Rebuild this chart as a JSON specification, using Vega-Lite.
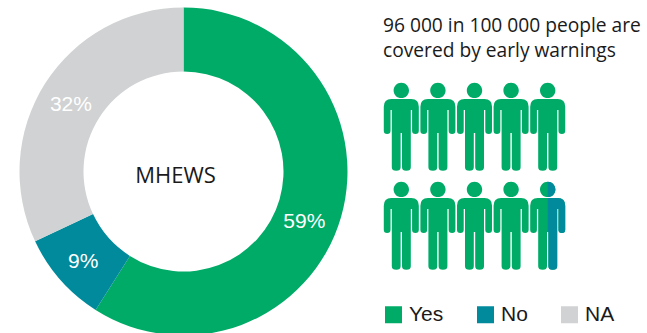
{
  "$schema": "https://vega.github.io/schema/vega-lite/v6.json",
  "padding": 0,
  "background": "white",
  "bounds": "flush",
  "spacing": 16,
  "config": {"view": {"stroke": null}},
  "hconcat": [
    {
      "width": 367,
      "height": 333,
      "data": {
        "values": [
          {"status": "Yes", "rank": 1, "share": 0.59},
          {"status": "No", "rank": 2, "share": 0.09},
          {"status": "NA", "rank": 3, "share": 0.32}
        ]
      },
      "encoding": {
        "theta": {"field": "share", "type": "quantitative", "stack": true},
        "order": {"field": "rank", "type": "ordinal"}
      },
      "layer": [
        {
          "mark": {"type": "arc", "innerRadius": 100, "outerRadius": 164, "yOffset": 5, "opacity": 1},
          "encoding": {
            "color": {
              "field": "status",
              "type": "nominal",
              "sort": null,
              "title": null,
              "scale": {"domain": ["Yes", "No", "NA"], "range": ["#00AB67", "#008A9B", "#D0D2D3"]},
              "legend": {
                "orient": "none",
                "legendX": 383,
                "legendY": 304,
                "direction": "horizontal",
                "padding": 0,
                "symbolType": "square",
                "symbolSize": 289,
                "symbolStrokeWidth": 0,
                "symbolOpacity": 1,
                "labelFont": "Liberation Sans",
                "labelFontSize": 21,
                "labelColor": "#1a1a1a",
                "labelOffset": 5,
                "columnPadding": 31
              }
            }
          }
        },
        {
          "mark": {"type": "text", "radius": 131, "yOffset": 5, "dx": -2, "dy": 4, "font": "Liberation Sans", "fontSize": 21, "color": "white"},
          "encoding": {
            "text": {
              "condition": {"test": "datum.status === 'Yes'", "value": ""},
              "field": "share",
              "type": "quantitative",
              "format": ".0%"
            }
          }
        },
        {
          "mark": {"type": "text", "radius": 131, "yOffset": 5, "dx": -5, "dy": 14, "font": "Liberation Sans", "fontSize": 21, "color": "white"},
          "encoding": {
            "text": {
              "condition": {"test": "datum.status !== 'Yes'", "value": ""},
              "field": "share",
              "type": "quantitative",
              "format": ".0%"
            }
          }
        },
        {
          "data": {"values": [{"name": "MHEWS"}]},
          "mark": {"type": "text", "dx": -8, "dy": 9, "font": "Open Sans", "fontSize": 22, "color": "#1a1a1a"},
          "encoding": {
            "theta": null,
            "order": null,
            "text": {"field": "name", "type": "nominal"}
          }
        }
      ]
    },
    {
      "width": 183,
      "height": 333,
      "title": {
        "text": ["96 000 in 100 000 people are", "covered by early warnings"],
        "anchor": "start",
        "frame": "group",
        "offset": -61,
        "font": "Open Sans",
        "fontSize": 19.2,
        "fontWeight": "normal",
        "color": "#1a1a1a",
        "lineHeight": 25
      },
      "encoding": {
        "x": {"field": "col", "type": "ordinal", "axis": null},
        "y": {
          "field": "row",
          "type": "quantitative",
          "axis": null,
          "scale": {"domain": [-0.28, 3.084], "reverse": true, "zero": false, "nice": false}
        },
        "color": {
          "field": "status",
          "type": "nominal",
          "scale": {"domain": ["Yes", "No", "NA"], "range": ["#00AB67", "#008A9B", "#D0D2D3"]},
          "legend": null
        }
      },
      "layer": [
        {
          "data": {
            "values": [
              {"col": 1, "row": 1, "status": "Yes"},
              {"col": 2, "row": 1, "status": "Yes"},
              {"col": 3, "row": 1, "status": "Yes"},
              {"col": 4, "row": 1, "status": "Yes"},
              {"col": 5, "row": 1, "status": "Yes"},
              {"col": 1, "row": 2, "status": "Yes"},
              {"col": 2, "row": 2, "status": "Yes"},
              {"col": 3, "row": 2, "status": "Yes"},
              {"col": 4, "row": 2, "status": "Yes"},
              {"col": 5, "row": 2, "status": "Yes"}
            ]
          },
          "mark": {
            "type": "point",
            "filled": true,
            "opacity": 1,
            "size": 7744,
            "strokeWidth": 0,
            "shape": "M-.227 -.63L.227 -.63Q.398 -.63 .398 -.455L.398 .091Q.398 .166 .323 .166Q.245 .166 .245 .091L.245 -.38L.216 -.38L.216 .92Q.216 1 .114 1Q.016 1 .016 .92L.016 .143L-.016 .143L-.016 .92Q-.016 1 -.114 1Q-.216 1 -.216 .92L-.216 -.38L-.245 -.38L-.245 .091Q-.245 .166 -.323 .166Q-.398 .166 -.398 .091L-.398 -.455Q-.398 -.63 -.227 -.63ZM-.175 -.825A.175 .175 0 1 1 .175 -.825A.175 .175 0 1 1 -.175 -.825Z"
          }
        },
        {
          "data": {"values": [{"col": 5, "row": 2, "status": "No"}]},
          "mark": {
            "type": "point",
            "filled": true,
            "opacity": 1,
            "size": 7744,
            "strokeWidth": 0,
            "shape": "M0 -.63L.227 -.63Q.398 -.63 .398 -.455L.398 .091Q.398 .166 .323 .166Q.245 .166 .245 .091L.245 -.38L.216 -.38L.216 .92Q.216 1 .114 1Q.016 1 .016 .92L.016 .143L0 .143ZM0 -1A.175 .175 0 0 1 0 -.65Z"
          }
        }
      ]
    }
  ]
}
